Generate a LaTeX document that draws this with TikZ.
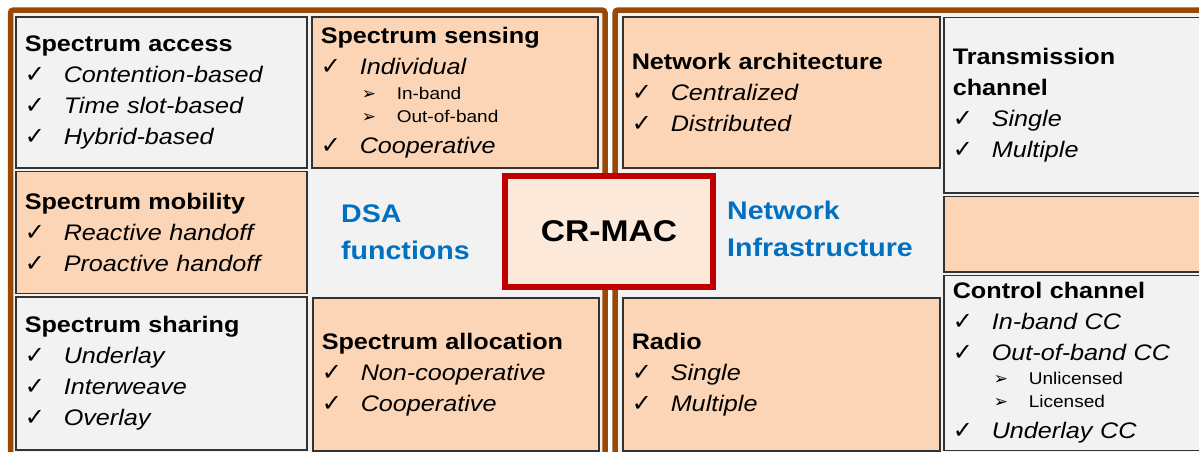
\documentclass[tikz,border=0pt]{standalone}
\usepackage{fontspec}
\setmainfont[FakeStretch=1.12]{Liberation Sans}
\newfontfamily\symfont{DejaVu Sans}
\usepackage{xcolor}
\usepackage{tikz}
\usetikzlibrary{positioning}

\definecolor{peach}{HTML}{FBD5B5}
\definecolor{cellgray}{HTML}{F2F2F2}
\definecolor{framebrown}{HTML}{984807}
\definecolor{crred}{HTML}{C00000}
\definecolor{crfill}{HTML}{FDE9D9}
\definecolor{dsablue}{HTML}{0070C0}

\newcommand{\ckitem}[1]{\makebox[39pt][l]{\symfont\fontsize{24}{31}\selectfont ✓}\textit{#1}}
\newcommand{\arritem}[1]{\hspace*{41pt}\makebox[35pt][l]{\symfont\fontsize{17}{31}\selectfont ➢}{\fontsize{17}{31}\selectfont #1}}

\begin{document}
\begin{tikzpicture}[
        x=1pt, y=-1pt,
        % Define common styles for the frames, cells and text
        frame/.style={draw=framebrown, line width=5.5pt, fill=cellgray, rounded corners=3pt},
        cell/.style={draw=black!80, line width=1.5pt, align=left, inner xsep=9pt, inner ysep=0pt,
            font=\fontsize{22.5}{31}\selectfont},
        graycell/.style={cell, fill=cellgray},
        peachcell/.style={cell, fill=peach},
        crbox/.style={draw=crred, line width=6pt, fill=crfill, minimum width=208pt, minimum height=111pt,
            font=\fontsize{30}{36}\selectfont\bfseries},
        groupname/.style={align=left, text=dsablue, inner sep=0pt, font=\fontsize{25.5}{37}\selectfont\bfseries}
    ]

        \useasboundingbox (0,0) rectangle (1199,451);

        % Two brown frames
        \draw[frame] (10.5,10) rectangle (605,470);
        \draw[frame] (615,10) rectangle (1220,470);

        % DSA functions side
        \node[graycell, anchor=north west, text width=273pt, minimum height=151pt] (access) at (15,16)
            {\textbf{Spectrum access}\\ \ckitem{Contention-based}\\ \ckitem{Time slot-based}\\ \ckitem{Hybrid-based}};

        \node[peachcell, right=3.5pt of access, text width=268pt, minimum height=151pt] (sensing)
            {\textbf{Spectrum sensing}\\ \ckitem{Individual}\\[-6pt] \arritem{In-band}\\[-8pt] \arritem{Out-of-band}\\ \ckitem{Cooperative}};

        \node[peachcell, below=2pt of access, text width=273pt, minimum height=122pt] (mobility)
            {\textbf{Spectrum mobility}\\ \ckitem{Reactive handoff}\\ \ckitem{Proactive handoff}};

        \node[graycell, below=2pt of mobility, text width=273pt, minimum height=153pt] (sharing)
            {\textbf{Spectrum sharing}\\ \ckitem{Underlay}\\ \ckitem{Interweave}\\ \ckitem{Overlay}};

        \node[peachcell, anchor=north west, text width=268pt, minimum height=153pt] (allocation) at (312,297)
            {\textbf{Spectrum allocation}\\ \ckitem{Non-cooperative}\\ \ckitem{Cooperative}};

        \node[groupname, anchor=west] (dsa) at (341,232) {DSA\\functions};

        % Network infrastructure side
        \node[peachcell, anchor=north west, text width=299pt, minimum height=151pt] (netarch) at (622,16)
            {\textbf{Network architecture}\\ \ckitem{Centralized}\\ \ckitem{Distributed}};

        \node[graycell, anchor=north west, text width=252pt, minimum height=175.5pt] (transmission) at (943,16.5)
            {\textbf{Transmission}\\ \textbf{channel}\\ \ckitem{Single}\\ \ckitem{Multiple}};

        \node[peachcell, below=2pt of transmission, text width=252pt, minimum height=75.5pt] (blank) {};

        \node[graycell, below=2pt of blank, text width=252pt, minimum height=175pt] (control)
            {\textbf{Control channel}\\ \ckitem{In-band CC}\\ \ckitem{Out-of-band CC}\\[-7pt] \arritem{Unlicensed}\\[-8pt] \arritem{Licensed}\\ \ckitem{Underlay CC}};

        \node[peachcell, anchor=north west, text width=299pt, minimum height=153pt] (radio) at (622,297)
            {\textbf{Radio}\\ \ckitem{Single}\\ \ckitem{Multiple}};

        \node[groupname, anchor=west] (infra) at (727,229) {Network\\Infrastructure};

        % Centre box
        \node[crbox] (crmac) at (609,231.5) {CR-MAC};

    \end{tikzpicture}
\end{document}
